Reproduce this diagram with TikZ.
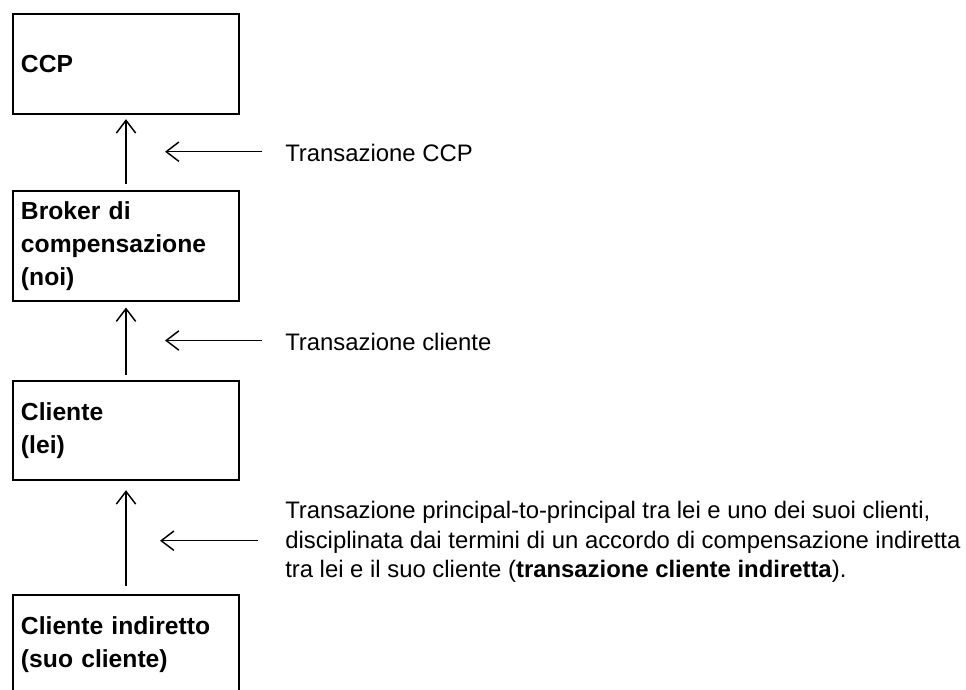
\documentclass[tikz,border=0pt]{standalone}
\usepackage{fontspec}
\setmainfont{Liberation Sans}
\usetikzlibrary{arrows.meta}

\begin{document}
\begin{tikzpicture}[x=0.75pt, y=-0.75pt,
    box/.style = {draw, line width=1.8pt, minimum width=169.5pt, text width=157.5pt, inner sep=6pt, align=left, font=\fontsize{18.5pt}{25pt}\selectfont\bfseries},
    note/.style = {inner sep=0pt, align=left, font=\fontsize{17.9pt}{22.1pt}\selectfont},
    up/.style = {-{Straight Barb[length=9.5pt, width=14.5pt]}, line width=1.1pt}]

    \useasboundingbox (0,0) rectangle (966,689);

    % the chain, top to bottom
    \node at (126, 64) [box, minimum height=75pt] (ccp) {CCP};
    \node at (126, 246) [box, minimum height=82.5pt] (broker) {Broker di\\compensazione\\(noi)};
    \node at (126, 430.5) [box, minimum height=74.25pt] (cliente) {Cliente\\(lei)};
    \node at (126, 644.5) [box, minimum height=74.25pt] (indiretto) {Cliente indiretto\\(suo cliente)};

    \draw[up, shorten <=4pt, shorten >=3pt] (broker.north) -- (ccp.south);
    \draw[up, shorten <=3.75pt, shorten >=4pt] (cliente.north) -- (broker.south);
    \draw[up, shorten <=6.2pt, shorten >=6.75pt] (indiretto.north) -- (cliente.south);

    % the transactions
    \node[note, anchor=west] at (285, 152.5) (t_1) {Transazione CCP};
    \node[note, anchor=west] at (285, 342) (t_2) {Transazione cliente};
    \node[note, anchor=north west] at (285, 501) (t_3) {Transazione principal-to-principal tra lei e uno dei suoi clienti,\\disciplinata dai termini di un accordo di compensazione indiretta\\tra lei e il suo cliente (\textbf{transazione cliente indiretta}).};

    \coordinate (s_1) at (262, 151.7);
    \coordinate (e_1) at (165, 151.7);
    \coordinate (s_2) at (262, 340.5);
    \coordinate (e_2) at (165, 340.5);
    \coordinate (s_3) at (257.7, 540.7);
    \coordinate (e_3) at (160, 540.7);

    \draw[up] (s_1) -- (e_1);
    \draw[up] (s_2) -- (e_2);
    \draw[up] (s_3) -- (e_3);
\end{tikzpicture}
\end{document}
